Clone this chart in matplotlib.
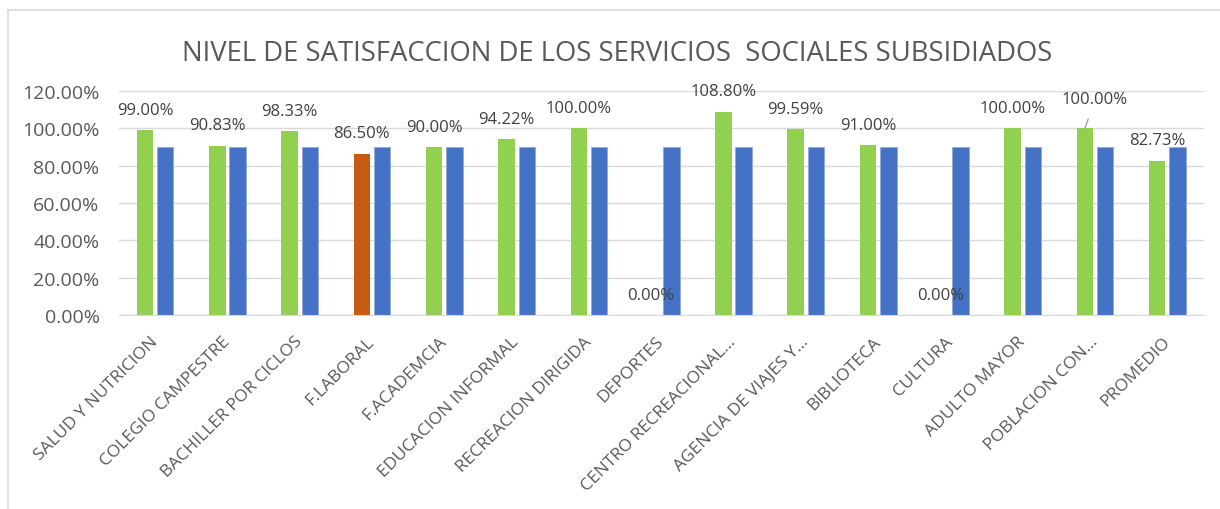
import matplotlib
matplotlib.use("Agg")
import matplotlib.pyplot as plt
from matplotlib.patches import Rectangle
import numpy as np

plt.rcParams['font.family'] = ['Open Sans', 'DejaVu Sans']

categorias = ["SALUD Y NUTRICION", "COLEGIO CAMPESTRE", "BACHILLER POR CICLOS",
              "F.LABORAL", "F.ACADEMCIA", "EDUCACION INFORMAL", "RECREACION DIRIGIDA",
              "DEPORTES", "CENTRO RECREACIONAL...", "AGENCIA DE VIAJES Y...",
              "BIBLIOTECA", "CULTURA", "ADULTO MAYOR", "POBLACION CON...", "PROMEDIO"]
satisfaccion = [0.99, 0.9083, 0.9833, 0.865, 0.90, 0.9422, 1.00, 0.0, 1.088,
                0.9959, 0.91, 0.0, 1.00, 1.00, 0.8273]
meta = [0.90] * 15

verde = "#92D050"
azul = "#4472C4"
naranja = "#C55A11"
gris_txt = "#595959"

colores = [naranja if c == "F.LABORAL" else verde for c in categorias]

fig = plt.figure(figsize=(12.2, 5.1), dpi=100)
ax = fig.add_axes([0.0975, 0.380, 0.889, 0.4396])

x = np.arange(len(categorias))
w = 0.228
off = 0.14
ax.bar(x - off, satisfaccion, w, color=colores, zorder=3)
ax.bar(x + off, meta, w, color=azul, edgecolor="#8faadc", linewidth=0.6, zorder=3)

for i, v in enumerate(satisfaccion):
    txt = f"{v * 100:.2f}%"
    if categorias[i] == "POBLACION CON...":
        ax.annotate(txt, xy=(i - off, v), xytext=(i - off + 0.14, v + 0.157),
                    ha="center", va="center", fontsize=12, color="#404040",
                    arrowprops=dict(arrowstyle="-", color="#a6a6a6", lw=1,
                                    shrinkA=7, shrinkB=0))
    else:
        ax.text(i - off, v + 0.11, txt, ha="center", va="center",
                fontsize=12, color="#404040")

ax.set_xlim(-0.5, len(categorias) - 0.5)
ax.set_ylim(0, 1.2)
ax.set_yticks(np.arange(0, 1.21, 0.2))
ax.set_yticklabels([f"{t * 100:.2f}%" for t in np.arange(0, 1.21, 0.2)])
ax.set_xticks(x)
ax.set_xticklabels(categorias, rotation=45, ha="right", va="center",
                   rotation_mode="anchor")
ax.tick_params(axis="y", length=0, pad=14, labelsize=14, labelcolor=gris_txt)
ax.tick_params(axis="x", length=0, pad=17, labelsize=12.5, labelcolor=gris_txt)
ax.yaxis.grid(True, color="#d9d9d9", lw=1, zorder=0)
for s in ["top", "right", "left"]:
    ax.spines[s].set_visible(False)
ax.spines["bottom"].set_color("#d9d9d9")
ax.spines["bottom"].set_zorder(4)

fig.text(0.506, 0.895, "NIVEL DE SATISFACCION DE LOS SERVICIOS  SOCIALES SUBSIDIADOS",
         ha="center", va="center", fontsize=19.8, color=gris_txt)

fig.patches.append(Rectangle((8 / 1220, -0.01), 1.1, 1 - 10.5 / 510 + 0.01,
                             transform=fig.transFigure, fill=False,
                             edgecolor="#d9d9d9", lw=1.2))

fig.savefig("out.png", dpi=100)
